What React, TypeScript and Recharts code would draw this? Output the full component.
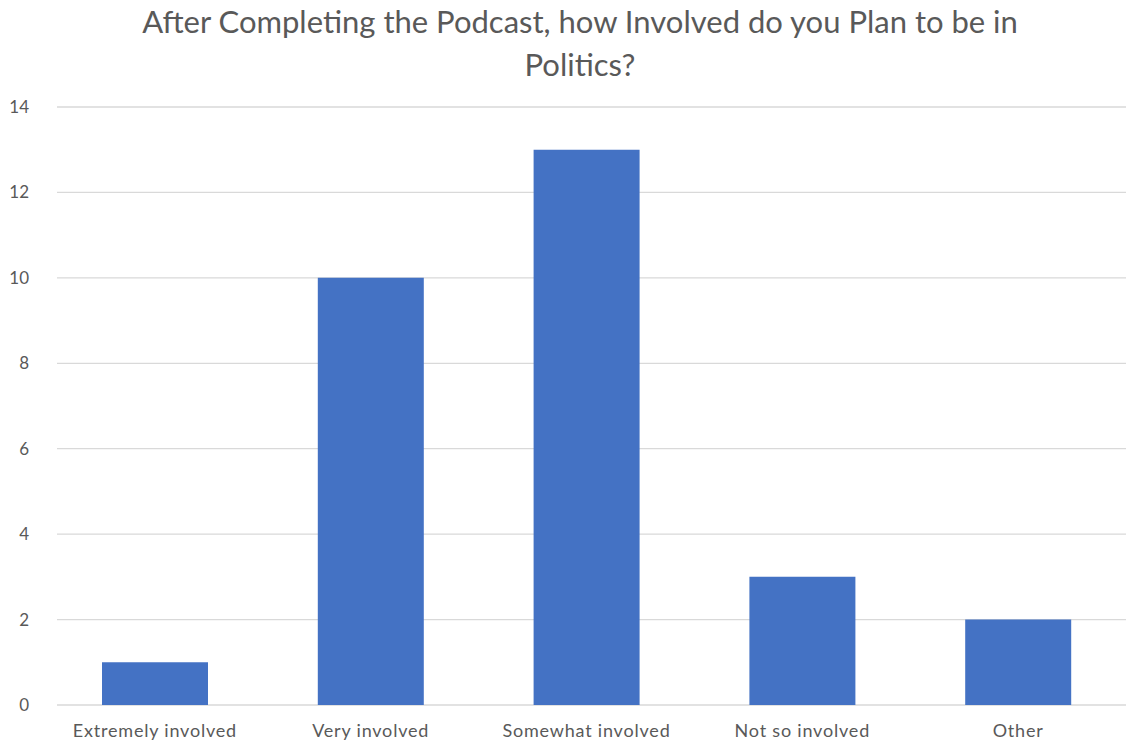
import React from "react";
import { BarChart, Bar, XAxis, YAxis, CartesianGrid } from "recharts";

const categories = ["Extremely involved", "Very involved", "Somewhat involved", "Not so involved", "Other"];
const counts = [1, 10, 13, 3, 2];
const yTicks = [0, 2, 4, 6, 8, 10, 12, 14];

const data = categories.map((c, i) => ({ name: c, value: counts[i] }));

const FONT = "Lato, 'Open Sans', sans-serif";

export default function App() {
  return (
    <div style={{ position: "absolute", left: 0, top: 0, width: 1126, height: 746, background: "#fff", fontFamily: FONT }}>
      <div
        style={{
          position: "absolute",
          left: 0,
          width: 1160,
          top: 0,
          textAlign: "center",
          color: "#595959",
          fontSize: 31,
          lineHeight: "43px",
          fontFamily: FONT,
        }}
      >
        After Completing the Podcast, how Involved do you Plan to be in
        <br />
        Politics?
      </div>
      <BarChart
        width={1126}
        height={746}
        data={data}
        margin={{ top: 107, right: 0, bottom: 0, left: 0 }}
        barSize={106}
      >
        <CartesianGrid vertical={false} stroke="#d9d9d9" strokeWidth={1.3} x={57} width={1069} />
        <XAxis
          dataKey="name"
          axisLine={false}
          tickLine={false}
          tickMargin={13}
          height={41}
          tick={{ fill: "#595959", fontSize: 18, fontFamily: FONT, letterSpacing: 0.8 }}
          interval={0}
        />
        <YAxis
          width={47}
          domain={[0, 14]}
          ticks={yTicks}
          axisLine={false}
          tickLine={false}
          tickMargin={12}
          tick={{ fill: "#595959", fontSize: 17, fontFamily: FONT }}
        />
        <Bar dataKey="value" fill="#4472C4" isAnimationActive={false} />
      </BarChart>
    </div>
  );
}
